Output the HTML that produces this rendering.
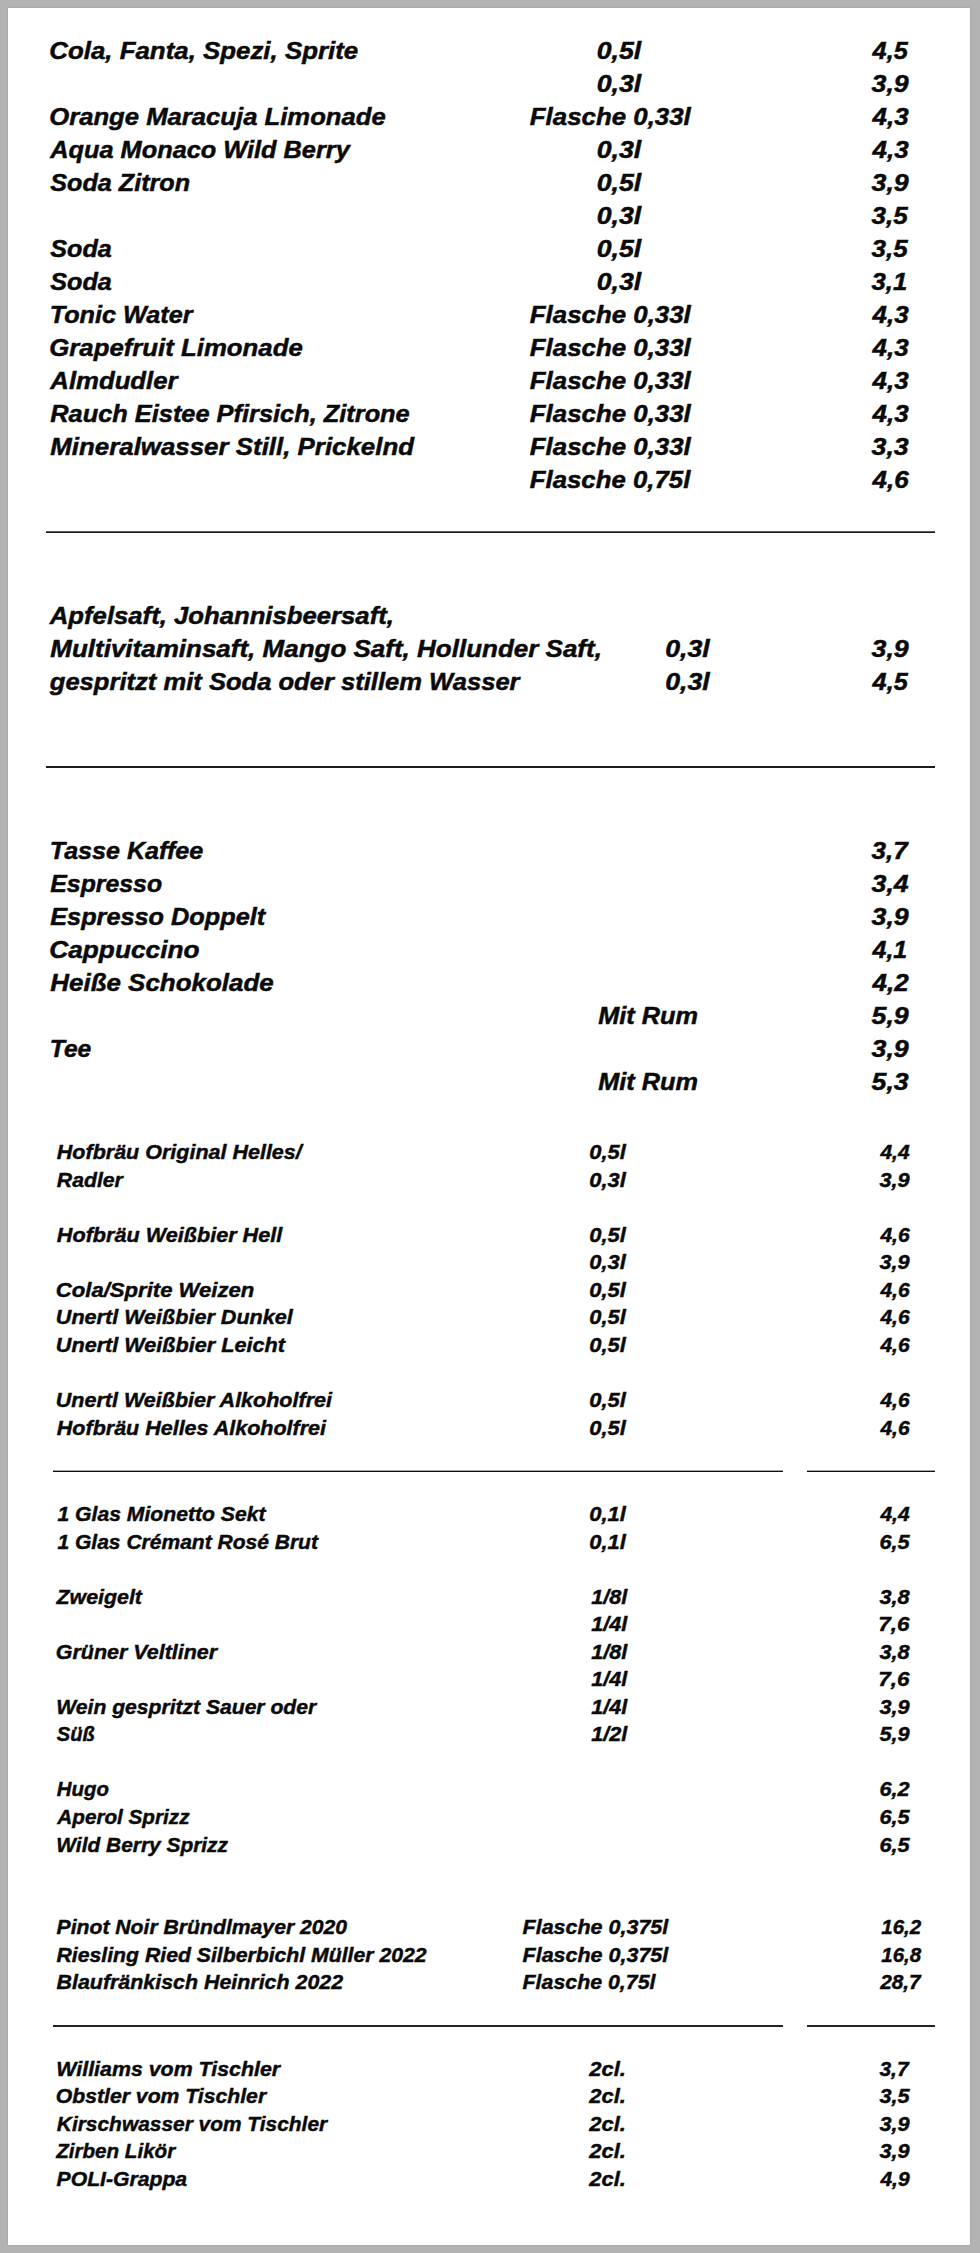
<!DOCTYPE html>
<html lang="de">
<head>
<meta charset="utf-8">
<title>Getränkekarte</title>
<style>
html,body{margin:0;padding:0}
body{width:980px;height:2253px;background:#b3b3b3;position:relative;overflow:hidden;
 font-family:"Liberation Sans",sans-serif;font-weight:bold;font-style:italic;color:#0a0a0a}
.page{position:absolute;left:8px;top:8px;width:962px;height:2237px;background:#fff;box-shadow:0 0 1.5px rgba(0,0,0,.22)}
.r{position:absolute;left:0;width:980px;height:0;white-space:nowrap;line-height:1}
.r span{position:absolute;top:0;left:0;white-space:pre;transform-origin:0 0;-webkit-text-stroke-color:#0a0a0a}
.L{font-size:24.8px;-webkit-text-stroke-width:0.5px}
.S{font-size:21px;-webkit-text-stroke-width:0.45px}
.hr{position:absolute}
</style>
</head>
<body>
<div class="page"></div>
<div class="r L" style="top:39px"><span style="transform:translateX(49.22px) scaleX(1.0431)">Cola, Fanta, Spezi, Sprite</span><span style="transform:translateX(596.69px) scaleX(1.0769)">0,5l</span><span style="transform:translateX(872.57px) scaleX(1.0194)">4,5</span></div>
<div class="r L" style="top:72px"><span style="transform:translateX(596.69px) scaleX(1.0769)">0,3l</span><span style="transform:translateX(871.57px) scaleX(1.0773)">3,9</span></div>
<div class="r L" style="top:105px"><span style="transform:translateX(49.22px) scaleX(1.0347)">Orange Maracuja Limonade</span><span style="transform:translateX(529.76px) scaleX(1.0430)">Flasche 0,33l</span><span style="transform:translateX(872.61px) scaleX(1.0475)">4,3</span></div>
<div class="r L" style="top:138px"><span style="transform:translateX(50.28px) scaleX(1.0211)">Aqua Monaco Wild Berry</span><span style="transform:translateX(596.69px) scaleX(1.0769)">0,3l</span><span style="transform:translateX(872.61px) scaleX(1.0475)">4,3</span></div>
<div class="r L" style="top:171px"><span style="transform:translateX(50.25px) scaleX(1.0152)">Soda Zitron</span><span style="transform:translateX(596.69px) scaleX(1.0769)">0,5l</span><span style="transform:translateX(871.57px) scaleX(1.0773)">3,9</span></div>
<div class="r L" style="top:204px"><span style="transform:translateX(596.69px) scaleX(1.0769)">0,3l</span><span style="transform:translateX(871.56px) scaleX(1.0475)">3,5</span></div>
<div class="r L" style="top:237px"><span style="transform:translateX(50.25px) scaleX(1.0141)">Soda</span><span style="transform:translateX(596.69px) scaleX(1.0769)">0,5l</span><span style="transform:translateX(871.56px) scaleX(1.0475)">3,5</span></div>
<div class="r L" style="top:270px"><span style="transform:translateX(50.25px) scaleX(1.0141)">Soda</span><span style="transform:translateX(596.69px) scaleX(1.0769)">0,3l</span><span style="transform:translateX(871.56px) scaleX(1.0357)">3,1</span></div>
<div class="r L" style="top:303px"><span style="transform:translateX(49.74px) scaleX(1.0164)">Tonic Water</span><span style="transform:translateX(529.76px) scaleX(1.0430)">Flasche 0,33l</span><span style="transform:translateX(872.61px) scaleX(1.0475)">4,3</span></div>
<div class="r L" style="top:336px"><span style="transform:translateX(49.22px) scaleX(1.0395)">Grapefruit Limonade</span><span style="transform:translateX(529.76px) scaleX(1.0430)">Flasche 0,33l</span><span style="transform:translateX(872.61px) scaleX(1.0475)">4,3</span></div>
<div class="r L" style="top:369px"><span style="transform:translateX(50.30px) scaleX(1.0377)">Almdudler</span><span style="transform:translateX(529.76px) scaleX(1.0430)">Flasche 0,33l</span><span style="transform:translateX(872.61px) scaleX(1.0475)">4,3</span></div>
<div class="r L" style="top:402px"><span style="transform:translateX(50.26px) scaleX(1.0230)">Rauch Eistee Pfirsich, Zitrone</span><span style="transform:translateX(529.76px) scaleX(1.0430)">Flasche 0,33l</span><span style="transform:translateX(872.61px) scaleX(1.0475)">4,3</span></div>
<div class="r L" style="top:435px"><span style="transform:translateX(50.26px) scaleX(1.0433)">Mineralwasser Still, Prickelnd</span><span style="transform:translateX(529.76px) scaleX(1.0430)">Flasche 0,33l</span><span style="transform:translateX(871.57px) scaleX(1.0773)">3,3</span></div>
<div class="r L" style="top:468px"><span style="transform:translateX(529.76px) scaleX(1.0398)">Flasche 0,75l</span><span style="transform:translateX(872.61px) scaleX(1.0475)">4,6</span></div>
<div class="r L" style="top:604px"><span style="transform:translateX(49.80px) scaleX(1.0362)">Apfelsaft, Johannisbeersaft,</span></div>
<div class="r L" style="top:637px"><span style="transform:translateX(50.26px) scaleX(1.0482)">Multivitaminsaft, Mango Saft, Hollunder Saft,</span><span style="transform:translateX(665.19px) scaleX(1.0769)">0,3l</span><span style="transform:translateX(871.57px) scaleX(1.0773)">3,9</span></div>
<div class="r L" style="top:670px"><span style="transform:translateX(49.79px) scaleX(1.0310)">gespritzt mit Soda oder stillem Wasser</span><span style="transform:translateX(665.19px) scaleX(1.0769)">0,3l</span><span style="transform:translateX(872.57px) scaleX(1.0194)">4,5</span></div>
<div class="r L" style="top:839px"><span style="transform:translateX(49.74px) scaleX(1.0123)">Tasse Kaffee</span><span style="transform:translateX(871.56px) scaleX(1.0475)">3,7</span></div>
<div class="r L" style="top:872px"><span style="transform:translateX(50.25px) scaleX(1.0018)">Espresso</span><span style="transform:translateX(871.57px) scaleX(1.0773)">3,4</span></div>
<div class="r L" style="top:905px"><span style="transform:translateX(50.25px) scaleX(1.0194)">Espresso Doppelt</span><span style="transform:translateX(871.57px) scaleX(1.0773)">3,9</span></div>
<div class="r L" style="top:938px"><span style="transform:translateX(49.21px) scaleX(1.0598)">Cappuccino</span><span style="transform:translateX(872.56px) scaleX(1.0062)">4,1</span></div>
<div class="r L" style="top:971px"><span style="transform:translateX(50.26px) scaleX(1.0462)">Heiße Schokolade</span><span style="transform:translateX(872.61px) scaleX(1.0475)">4,2</span></div>
<div class="r L" style="top:1004px"><span style="transform:translateX(598.25px) scaleX(1.0199)">Mit Rum</span><span style="transform:translateX(871.57px) scaleX(1.0773)">5,9</span></div>
<div class="r L" style="top:1037px"><span style="transform:translateX(49.76px) scaleX(0.9924)">Tee</span><span style="transform:translateX(871.57px) scaleX(1.0773)">3,9</span></div>
<div class="r L" style="top:1070px"><span style="transform:translateX(598.25px) scaleX(1.0199)">Mit Rum</span><span style="transform:translateX(871.57px) scaleX(1.0773)">5,3</span></div>
<div class="r S" style="top:1141px"><span style="transform:translateX(56.83px) scaleX(1.0239)">Hofbräu Original Helles/</span><span style="transform:translateX(589.23px) scaleX(1.0425)">0,5l</span><span style="transform:translateX(880.43px) scaleX(1.0012)">4,4</span></div>
<div class="r S" style="top:1169px"><span style="transform:translateX(56.83px) scaleX(1.0098)">Radler</span><span style="transform:translateX(589.23px) scaleX(1.0425)">0,3l</span><span style="transform:translateX(879.43px) scaleX(1.0346)">3,9</span></div>
<div class="r S" style="top:1224px"><span style="transform:translateX(56.83px) scaleX(1.0295)">Hofbräu Weißbier Hell</span><span style="transform:translateX(589.23px) scaleX(1.0425)">0,5l</span><span style="transform:translateX(880.43px) scaleX(1.0012)">4,6</span></div>
<div class="r S" style="top:1251px"><span style="transform:translateX(589.23px) scaleX(1.0425)">0,3l</span><span style="transform:translateX(879.43px) scaleX(1.0346)">3,9</span></div>
<div class="r S" style="top:1279px"><span style="transform:translateX(55.78px) scaleX(1.0525)">Cola/Sprite Weizen</span><span style="transform:translateX(589.23px) scaleX(1.0425)">0,5l</span><span style="transform:translateX(880.43px) scaleX(1.0012)">4,6</span></div>
<div class="r S" style="top:1306px"><span style="transform:translateX(55.80px) scaleX(1.0274)">Unertl Weißbier Dunkel</span><span style="transform:translateX(589.23px) scaleX(1.0425)">0,5l</span><span style="transform:translateX(880.43px) scaleX(1.0012)">4,6</span></div>
<div class="r S" style="top:1334px"><span style="transform:translateX(55.80px) scaleX(1.0299)">Unertl Weißbier Leicht</span><span style="transform:translateX(589.23px) scaleX(1.0425)">0,5l</span><span style="transform:translateX(880.43px) scaleX(1.0012)">4,6</span></div>
<div class="r S" style="top:1389px"><span style="transform:translateX(55.81px) scaleX(1.0246)">Unertl Weißbier Alkoholfrei</span><span style="transform:translateX(589.23px) scaleX(1.0425)">0,5l</span><span style="transform:translateX(880.43px) scaleX(1.0012)">4,6</span></div>
<div class="r S" style="top:1417px"><span style="transform:translateX(56.83px) scaleX(1.0236)">Hofbräu Helles Alkoholfrei</span><span style="transform:translateX(589.23px) scaleX(1.0425)">0,5l</span><span style="transform:translateX(880.43px) scaleX(1.0012)">4,6</span></div>
<div class="r S" style="top:1503px"><span style="transform:translateX(57.43px) scaleX(1.0072)">1 Glas Mionetto Sekt</span><span style="transform:translateX(589.23px) scaleX(1.0425)">0,1l</span><span style="transform:translateX(880.43px) scaleX(1.0012)">4,4</span></div>
<div class="r S" style="top:1531px"><span style="transform:translateX(57.43px) scaleX(1.0011)">1 Glas Crémant Rosé Brut</span><span style="transform:translateX(589.23px) scaleX(1.0425)">0,1l</span><span style="transform:translateX(879.43px) scaleX(1.0346)">6,5</span></div>
<div class="r S" style="top:1586px"><span style="transform:translateX(56.45px) scaleX(1.0177)">Zweigelt</span><span style="transform:translateX(591.23px) scaleX(1.0288)">1/8l</span><span style="transform:translateX(879.43px) scaleX(1.0346)">3,8</span></div>
<div class="r S" style="top:1613px"><span style="transform:translateX(591.23px) scaleX(1.0288)">1/4l</span><span style="transform:translateX(878.37px) scaleX(1.0703)">7,6</span></div>
<div class="r S" style="top:1641px"><span style="transform:translateX(55.81px) scaleX(1.0213)">Grüner Veltliner</span><span style="transform:translateX(591.23px) scaleX(1.0288)">1/8l</span><span style="transform:translateX(879.43px) scaleX(1.0346)">3,8</span></div>
<div class="r S" style="top:1668px"><span style="transform:translateX(591.23px) scaleX(1.0288)">1/4l</span><span style="transform:translateX(878.37px) scaleX(1.0703)">7,6</span></div>
<div class="r S" style="top:1696px"><span style="transform:translateX(56.32px) scaleX(1.0045)">Wein gespritzt Sauer oder</span><span style="transform:translateX(591.23px) scaleX(1.0288)">1/4l</span><span style="transform:translateX(879.43px) scaleX(1.0346)">3,9</span></div>
<div class="r S" style="top:1723px"><span style="transform:translateX(56.82px) scaleX(0.9582)">Süß</span><span style="transform:translateX(591.23px) scaleX(1.0288)">1/2l</span><span style="transform:translateX(879.43px) scaleX(1.0346)">5,9</span></div>
<div class="r S" style="top:1778px"><span style="transform:translateX(56.82px) scaleX(0.9692)">Hugo</span><span style="transform:translateX(879.43px) scaleX(1.0346)">6,2</span></div>
<div class="r S" style="top:1806px"><span style="transform:translateX(57.31px) scaleX(0.9851)">Aperol Sprizz</span><span style="transform:translateX(879.43px) scaleX(1.0346)">6,5</span></div>
<div class="r S" style="top:1834px"><span style="transform:translateX(56.33px) scaleX(0.9950)">Wild Berry Sprizz</span><span style="transform:translateX(879.43px) scaleX(1.0346)">6,5</span></div>
<div class="r S" style="top:1916px"><span style="transform:translateX(56.53px) scaleX(1.0082)">Pinot Noir Bründlmayer 2020</span><span style="transform:translateX(522.53px) scaleX(1.0233)">Flasche 0,375l</span><span style="transform:translateX(881.22px) scaleX(0.9774)">16,2</span></div>
<div class="r S" style="top:1944px"><span style="transform:translateX(56.53px) scaleX(1.0100)">Riesling Ried Silberbichl Müller 2022</span><span style="transform:translateX(522.53px) scaleX(1.0233)">Flasche 0,375l</span><span style="transform:translateX(881.22px) scaleX(0.9774)">16,8</span></div>
<div class="r S" style="top:1971px"><span style="transform:translateX(56.53px) scaleX(1.0189)">Blaufränkisch Heinrich 2022</span><span style="transform:translateX(522.53px) scaleX(1.0169)">Flasche 0,75l</span><span style="transform:translateX(880.21px) scaleX(0.9899)">28,7</span></div>
<div class="r S" style="top:2058px"><span style="transform:translateX(56.31px) scaleX(1.0172)">Williams vom Tischler</span><span style="transform:translateX(589.28px) scaleX(1.0437)">2cl.</span><span style="transform:translateX(879.43px) scaleX(1.0012)">3,7</span></div>
<div class="r S" style="top:2085px"><span style="transform:translateX(55.82px) scaleX(1.0086)">Obstler vom Tischler</span><span style="transform:translateX(589.28px) scaleX(1.0437)">2cl.</span><span style="transform:translateX(879.43px) scaleX(1.0346)">3,5</span></div>
<div class="r S" style="top:2113px"><span style="transform:translateX(56.82px) scaleX(0.9954)">Kirschwasser vom Tischler</span><span style="transform:translateX(589.28px) scaleX(1.0437)">2cl.</span><span style="transform:translateX(879.43px) scaleX(1.0346)">3,9</span></div>
<div class="r S" style="top:2140px"><span style="transform:translateX(56.20px) scaleX(0.9806)">Zirben Likör</span><span style="transform:translateX(589.28px) scaleX(1.0437)">2cl.</span><span style="transform:translateX(879.43px) scaleX(1.0346)">3,9</span></div>
<div class="r S" style="top:2168px"><span style="transform:translateX(56.53px) scaleX(1.0085)">POLI-Grappa</span><span style="transform:translateX(589.28px) scaleX(1.0437)">2cl.</span><span style="transform:translateX(880.43px) scaleX(1.0012)">4,9</span></div>
<div class="hr" style="left:46px;top:531px;width:889px;height:2px;background:linear-gradient(#5c5c5c 50%,#1a1a1a 50%)"></div>
<div class="hr" style="left:46px;top:766px;width:889px;height:2px;background:#1c1c1c"></div>
<div class="hr" style="left:52.5px;top:1470px;width:730.5px;height:2px;background:linear-gradient(#a6a6a6 50%,#0d0d0d 50%)"></div>
<div class="hr" style="left:807px;top:1470px;width:128px;height:2px;background:linear-gradient(#a6a6a6 50%,#0d0d0d 50%)"></div>
<div class="hr" style="left:52.5px;top:2025px;width:730.5px;height:2px;background:#242424"></div>
<div class="hr" style="left:807px;top:2025px;width:128px;height:2px;background:#242424"></div>
</body>
</html>
